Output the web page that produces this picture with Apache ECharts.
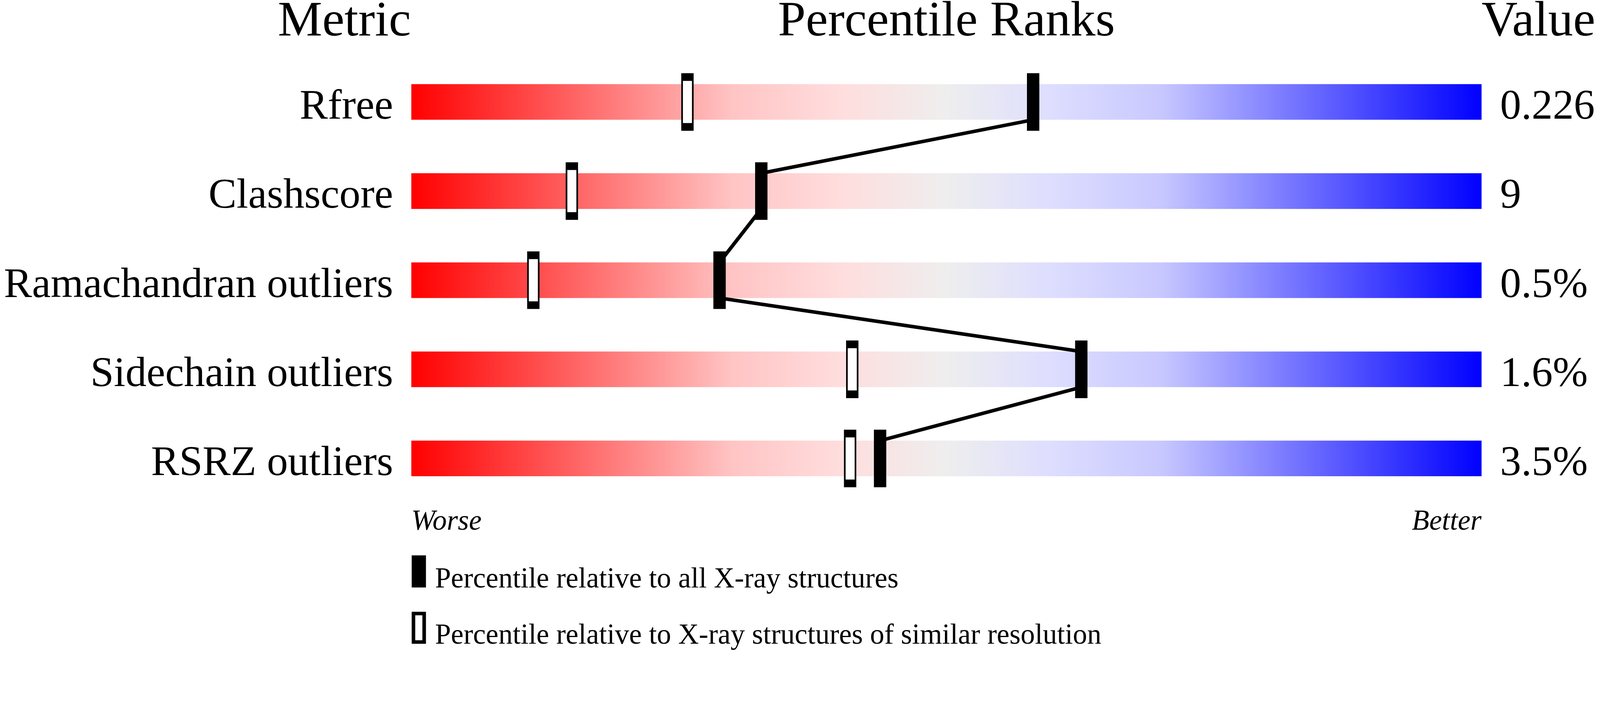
<!DOCTYPE html>
<html>
<head>
    <meta charset="UTF-8">
    <title>Percentile Ranks</title>
    <style>
        html, body {
            height: 100%;
            width: 100%;
            margin: 0;
            padding: 0;
            background: #fff;
        }
    </style>
    <script src="https://cdn.jsdelivr.net/npm/echarts@6/dist/echarts.min.js"></script>
</head>
<body>
<div id="main" style="height: 100%; width: 100%;"></div>

<script type="text/javascript">
    // metric names (top to bottom)
    var metrics = ['Rfree', 'Clashscore', 'Ramachandran outliers', 'Sidechain outliers', 'RSRZ outliers'];
    // value column
    var valueLabels = ['0.226', '9', '0.5%', '1.6%', '3.5%'];
    // percentile relative to all X-ray structures (filled marker)
    var pctAll = [58.1, 32.7, 28.8, 62.6, 43.8];
    // percentile relative to structures of similar resolution (hollow marker)
    var pctSimilar = [25.8, 15.0, 11.4, 41.2, 41.0];
    var legendNames = ['Percentile relative to all X-ray structures',
        'Percentile relative to X-ray structures of similar resolution'];
    var ends = ['Worse', 'Better'];

    var serif = 'Liberation Serif';
    var barHalf = 0.2; // half of bar thickness, in row units (bar = 40% of row)

    function createChart() {
        var dom = document.getElementById('main');
        var myChart = echarts.init(dom);
        // layout was measured on a 4485 px wide picture
        var s = myChart.getWidth() / 4485;
        function px(v) { return v * s; }
        function font(size) { return px(size) + 'px "' + serif + '"'; }
        // rich text so that the padding moves the text down (plain text ignores it when centred)
        function big(v) { return '{t|' + v + '}'; }
        var bigRich = {t: {fontFamily: serif, fontSize: px(118), lineHeight: px(118), color: '#000'}};

        var fullBars = metrics.map(function () { return 100; });
        var allPts = pctAll.map(function (p, i) { return [p, i + 0.5]; });
        var simPts = pctSimilar.map(function (p, i) { return [p, i + 0.5]; });
        // joining line: bottom of one bar to top of the next
        var joinPts = [];
        pctAll.forEach(function (p, i) {
            if (i > 0) joinPts.push([p, i + 0.5 - barHalf]);
            if (i < pctAll.length - 1) joinPts.push([p, i + 0.5 + barHalf]);
        });

        var option = {
            animation: false,
            backgroundColor: '#fff',
            grid: {
                left: px(1153),
                right: px(332),
                top: px(161),
                bottom: myChart.getHeight() - px(1411),
                containLabel: false,
                outerBoundsMode: 'none'
            },
            legend: {
                orient: 'vertical',
                left: px(1154),
                top: px(1558),
                padding: 0,
                itemWidth: px(30),
                itemHeight: px(80),
                itemGap: px(49),
                icon: 'rect',
                selectedMode: false,
                itemStyle: {borderWidth: px(10), borderColor: '#000'},
                formatter: function (name) { return '{t|' + name + '}'; },
                textStyle: {
                    fontFamily: serif,
                    fontSize: px(80),
                    color: '#000',
                    padding: [px(48), 0, 0, px(25)],
                    rich: {t: {fontFamily: serif, fontSize: px(80), lineHeight: px(80), color: '#000'}}
                },
                data: [
                    {name: legendNames[0], itemStyle: {color: '#000', borderColor: '#000', borderWidth: px(10)}},
                    {name: legendNames[1], itemStyle: {color: '#fff', borderColor: '#000', borderWidth: px(10)}}
                ]
            },
            graphic: [
                {type: 'text', x: px(1152), y: px(63), style: {text: 'Metric', font: font(140), fill: '#000', align: 'right', verticalAlign: 'middle'}},
                {type: 'text', x: px(2653), y: px(63), style: {text: 'Percentile Ranks', font: font(140), fill: '#000', align: 'center', verticalAlign: 'middle'}},
                {type: 'text', x: px(4153), y: px(63), style: {text: 'Value', font: font(140), fill: '#000', align: 'left', verticalAlign: 'middle'}}
            ],
            xAxis: [{
                type: 'value',
                min: 0,
                max: 100,
                interval: 100,
                axisLine: {show: false},
                axisTick: {show: false},
                splitLine: {show: false},
                axisLabel: {
                    margin: px(14),
                    fontFamily: serif,
                    fontStyle: 'italic',
                    fontSize: px(80),
                    color: '#000',
                    alignMinLabel: 'left',
                    alignMaxLabel: 'right',
                    formatter: function (v) { return v === 0 ? ends[0] : ends[1]; }
                }
            }],
            yAxis: [{
                type: 'category',
                data: metrics,
                inverse: true,
                axisLine: {show: false},
                axisTick: {show: false},
                splitLine: {show: false},
                axisLabel: {
                    margin: px(51),
                    fontFamily: serif,
                    fontSize: px(118),
                    color: '#000',
                    padding: [px(32), 0, 0, 0],
                    formatter: big,
                    rich: bigRich
                }
            }, {
                type: 'value',
                min: 0,
                max: metrics.length,
                inverse: true,
                show: false
            }],
            series: [{
                type: 'bar',
                data: fullBars,
                barWidth: '40%',
                silent: true,
                z: 1,
                itemStyle: {
                    color: new echarts.graphic.LinearGradient(0, 0, 1, 0, [
                        {offset: 0, color: '#ff0000'},
                        {offset: 0.3, color: '#ffc4c4'},
                        {offset: 0.4, color: '#ffdddd'},
                        {offset: 0.5, color: '#eeeeee'},
                        {offset: 0.6, color: '#ddddff'},
                        {offset: 0.7, color: '#c8c8ff'},
                        {offset: 1, color: '#0000ff'}
                    ])
                },
                label: {
                    show: true,
                    position: 'right',
                    distance: px(52),
                    fontFamily: serif,
                    fontSize: px(118),
                    color: '#000',
                    padding: [px(32), 0, 0, 0],
                    rich: bigRich,
                    formatter: function (p) { return big(valueLabels[p.dataIndex]); }
                }
            }, {
                type: 'line',
                yAxisIndex: 1,
                data: joinPts,
                symbol: 'none',
                silent: true,
                z: 3,
                lineStyle: {color: '#000', width: px(10), join: 'round'}
            }, {
                name: legendNames[1],
                type: 'scatter',
                yAxisIndex: 1,
                data: simPts,
                symbol: 'rect',
                symbolSize: [px(30), px(140)],
                z: 4,
                itemStyle: {color: '#fff', borderColor: '#000', borderWidth: px(10), opacity: 1}
            }, {
                name: legendNames[0],
                type: 'scatter',
                yAxisIndex: 1,
                data: allPts,
                symbol: 'rect',
                symbolSize: [px(30), px(140)],
                z: 5,
                itemStyle: {color: '#000', borderColor: '#000', borderWidth: px(10), opacity: 1}
            }]
        };
        myChart.setOption(option);
    }

    createChart();
</script>
</body>
</html>
